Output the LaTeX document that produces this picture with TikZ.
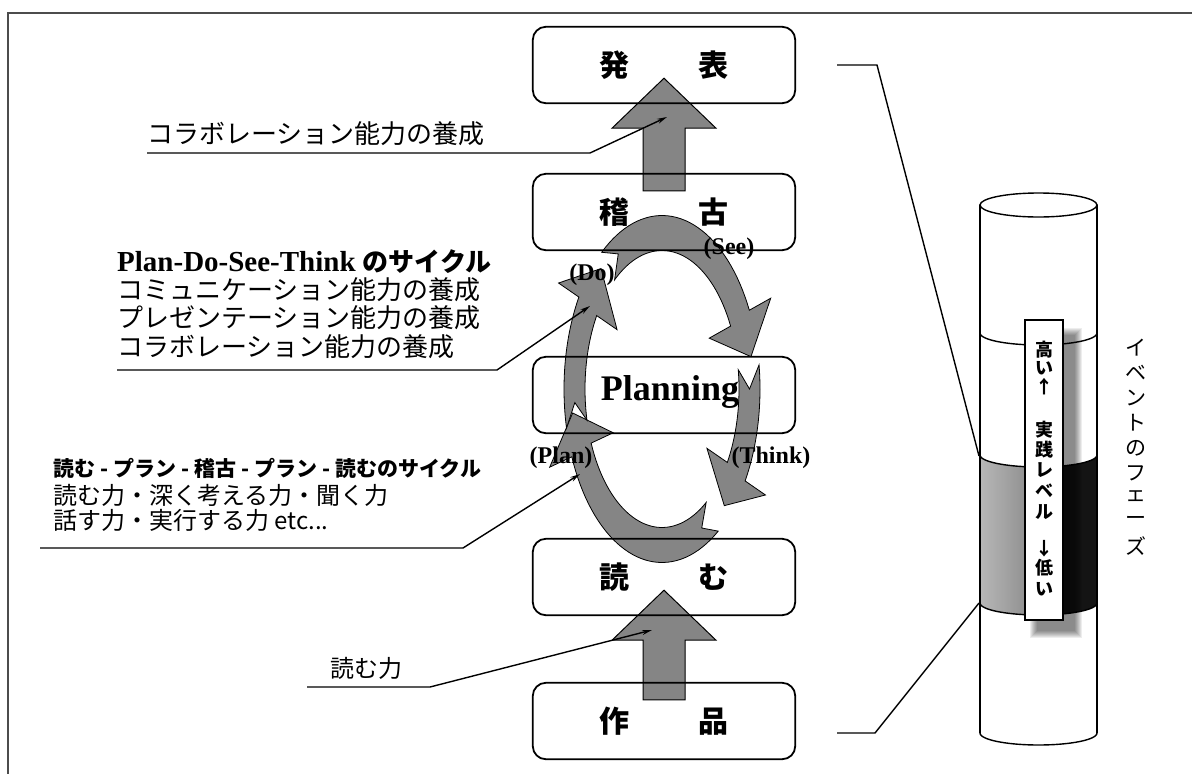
\documentclass[tikz,border=0pt]{standalone}
\usepackage{fontspec}
\setmainfont{Liberation Serif}
\newfontfamily\jp{Noto Sans CJK JP}
\usetikzlibrary{calc,arrows.meta}
\newcommand\fsz[1]{\fontsize{#1}{#1}\selectfont}
\newcommand\jdash{\hspace{5pt}-\hspace{5pt}}
\tikzset{
  stagebox/.style={minimum width=262pt, minimum height=76pt, inner sep=0pt, rounded corners=13pt},
  boxline/.style={draw=black, line width=1.8pt, rounded corners=13pt},
  blockfill/.style={fill=black!48, draw=black, line width=1pt},
  leader/.style={draw=black, line width=1.4pt, -{Stealth[length=10pt,width=5pt]}},
  plainline/.style={draw=black, line width=1.4pt},
  framel/.style={draw=black!70, line width=2pt},
  jpbig/.style={font=\jp\bfseries\fsz{30}, inner sep=0pt},
  cyclab/.style={font=\bfseries\fsz{24}, inner sep=0pt},
  note/.style={font=\jp\fsz{26}, anchor=west, inner sep=0pt},
  vchar/.style={font=\jp\bfseries\fsz{18}, inner sep=0pt},
  hchar/.style={font=\jp\fsz{21}, inner sep=0pt},
}
\newcommand\blockup[2]{%
  \coordinate (tip-#2) at ($(#2.south)+(0,-25)$);
  \coordinate (tail-#1) at ($(#1.north)+(0,17)$);
  \filldraw[blockfill] (tip-#2) -- ($(tip-#2)+(52,50)$) -- ($(tip-#2)+(21,50)$) -- ($(tail-#1)+(21,0)$)
    -- ($(tail-#1)+(-21,0)$) -- ($(tip-#2)+(-21,50)$) -- ($(tip-#2)+(-52,50)$) -- cycle;}
\newcommand\cycarrow[3]{%
  \pgfmathsetmacro\cycN{sqrt((0.875*sin(#2))^2+(1.56*cos(#2))^2)}%
  \pgfmathsetmacro\cycTX{87.5*cos(#2)+#3*0.875*sin(#2)/\cycN}%
  \pgfmathsetmacro\cycTY{-156*sin(#2)+#3*1.56*cos(#2)/\cycN}%
  \filldraw[blockfill, line width=0.8pt] plot[domain=#1:#2, samples=40] ({98*cos(\x)},{-173.5*sin(\x)})
    -- ({122*cos(#2)},{-200*sin(#2)}) -- (\cycTX,\cycTY) -- ({53*cos(#2)},{-112*sin(#2)})
    -- plot[domain=#2:#1, samples=40] ({77*cos(\x)},{-138.5*sin(\x)})
    -- ({87.5*cos(#1-8)},{-156*sin(#1-8)}) -- cycle;}
\begin{document}
\begin{tikzpicture}[x=1pt,y=-1pt]
\useasboundingbox (0,0) rectangle (1192,774);
\fill[white] (0,0) rectangle (1192,774);
\draw[framel] (8,774) -- (8,13) -- (1192,13);

% stage boxes (white fill first)
\foreach \n/\yy in {happyo/65, keiko/212, plan/395, yomu/577, sakuhin/721}
  \node[stagebox, fill=white] (\n) at (664,\yy) {};

% block arrows
\blockup{keiko}{happyo}
\blockup{sakuhin}{yomu}

% cycle arrows
\coordinate (cc) at ($(plan.center)+(-2,-6)$);
\begin{scope}[shift={(cc)}]
  \cycarrow{128}{27}{40}
  \cycarrow{8}{-32}{36}
  \cycarrow{-55}{-157}{38}
  \cycarrow{193}{148}{40}
\end{scope}

% box outlines
\foreach \n in {happyo,keiko,plan,yomu,sakuhin}
  \draw[boxline] (\n.south west) rectangle (\n.north east);

% box texts
\node[jpbig] (t-happyo) at (happyo) {発\hspace{70pt}表};
\node[jpbig] (t-keiko) at (keiko) {稽\hspace{70pt}古};
\node[jpbig] (t-yomu) at (yomu) {読\hspace{70pt}む};
\node[jpbig] (t-sakuhin) at (sakuhin) {作\hspace{70pt}品};
\node[font=\bfseries\fsz{36}, inner sep=0pt] (t-plan) at ($(plan.center)+(6,-3)$) {Planning};

% cycle labels
\node[cyclab] (l-see) at (729,249) {(See)};
\node[cyclab] (l-do) at (592,275) {(Do)};
\node[cyclab] (l-think) at (771,458) {(Think)};
\node[cyclab] (l-plan) at (561,458) {(Plan)};

% left notes
\node[note] (n-top) at (147,134) {コラボレーション能力の養成};
\coordinate (n-top-s) at (147,153);
\coordinate (n-top-e) at (667,117);
\draw[leader] (n-top-s) -- ++(443,0) -- (n-top-e);

\node[note, font=\bfseries\fsz{29}] (n-pd1) at (117,262) {Plan-Do-See-Think {\jp\bfseries\fsz{26}のサイクル}};
\node[note] (n-pd2) at (117,290) {コミュニケーション能力の養成};
\node[note] (n-pd3) at (117,318) {プレゼンテーション能力の養成};
\node[note] (n-pd4) at (117,347) {コラボレーション能力の養成};
\coordinate (n-pd-s) at (117,370);
\coordinate (n-pd-e) at (590,306);
\draw[leader] (n-pd-s) -- ++(380,0) -- (n-pd-e);

\node[note, font=\jp\bfseries\fsz{21}] (n-r1) at (53,468) {読む\jdash プラン\jdash 稽古\jdash プラン\jdash 読むのサイクル};
\node[note, font=\jp\fsz{24}] (n-r2) at (53,495) {読む力・深く考える力・聞く力};
\node[note, font=\jp\fsz{24}] (n-r3) at (53,520) {話す力・実行する力 etc...};
\coordinate (n-r-s) at (40,548);
\coordinate (n-r-e) at (580,474);
\draw[leader] (n-r-s) -- ++(423,0) -- (n-r-e);

\node[note, font=\jp\fsz{24}] (n-y) at (330,668) {読む力};
\coordinate (n-y-s) at (307,687);
\coordinate (n-y-e) at (652,630);
\draw[leader] (n-y-s) -- ++(123,0) -- (n-y-e);

% cylinder
\filldraw[fill=white, draw=black, line width=1.4pt] (980,205) -- (980,733)
  -- plot[domain=180:360, samples=40] ({1038.5+58.5*cos(\x)},{733-12*sin(\x)})
  -- (1097,205) -- cycle;
\filldraw[fill=white, draw=black, line width=1.4pt] (1038.5,205) ellipse[x radius=58.5, y radius=12];
% gray band
\begin{scope}
  \clip plot[domain=180:360, samples=40] ({1038.5+58.5*cos(\x)},{455-12*sin(\x)})
    -- plot[domain=360:180, samples=40] ({1038.5+58.5*cos(\x)},{603-12*sin(\x)}) -- cycle;
  \fill[left color=black!28, right color=black!55] (980,440) rectangle (1063,620);
  \fill[black!92] (1063,440) rectangle (1097,620);
\end{scope}
\draw[black, line width=1.4pt] plot[domain=180:360, samples=40] ({1038.5+58.5*cos(\x)},{333-12*sin(\x)});
\draw[black, line width=1.4pt] plot[domain=180:360, samples=40] ({1038.5+58.5*cos(\x)},{455-12*sin(\x)});
\draw[black, line width=1.4pt] plot[domain=180:360, samples=40] ({1038.5+58.5*cos(\x)},{603-12*sin(\x)});
\draw[black, line width=1.4pt] (980,205) -- (980,733) (1097,205) -- (1097,733);

% label shadow
\foreach \k in {0,...,7}
  \fill[black, opacity=0.07] (1030+\k,328+\k) rectangle (1082-\k,638-\k);
\node[draw=black, fill=white, line width=1.2pt, minimum width=38pt, minimum height=300pt, inner sep=0pt] (lvl) at (1044,470) {};
\foreach \c/\yy [count=\i] in {高/350, い/368, ↑/387, 実/430, 践/450, レ/470, ベ/491, ル/512, ↓/549, 低/568, い/589}
  \node[vchar] (lv\i) at (1044,\yy) {\c};

% vertical phase label
\foreach \c/\yy [count=\i] in {イ/348, ベ/373, ン/398, ト/423, の/448, フ/473, ェ/496, ー/521, ズ/546}
  \node[hchar] (ph\i) at (1136,\yy) {\c};

% connectors to cylinder
\coordinate (c-top-s) at (837,65);
\coordinate (c-top-e) at (979,456);
\coordinate (c-bot-s) at (837,733);
\coordinate (c-bot-e) at (979,603);
\draw[plainline] (c-top-s) -- ++(40,0) -- (c-top-e);
\draw[plainline] (c-bot-s) -- ++(38,0) -- (c-bot-e);
\end{tikzpicture}
\end{document}
